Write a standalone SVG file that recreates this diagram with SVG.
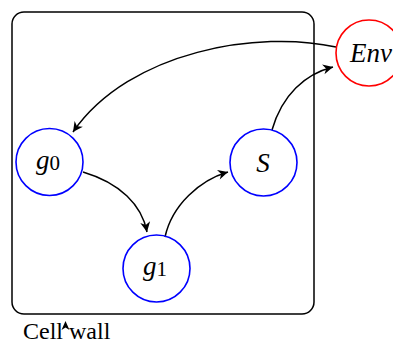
<svg xmlns="http://www.w3.org/2000/svg" width="393" height="343" viewBox="0 0 393 343">
<defs>
<marker id="ah" viewBox="-11 -6 12 12" refX="0" refY="0" markerWidth="12" markerHeight="12" markerUnits="userSpaceOnUse" orient="auto">
<path d="M0,0 L-10,-5 L-7,0 L-10,5 Z" fill="#000"/>
</marker>
</defs>
<g id="cellwall">
<rect x="12" y="12" width="302" height="302" rx="12" ry="12" fill="none" stroke="#000" stroke-width="1.5"/>
<text y="339" font-family="Liberation Serif" font-size="24"><tspan x="23">Cell </tspan><tspan x="69">wall</tspan></text>
<path d="M65.5,321 L69.5,330 L65.5,327.5 L61.5,330 Z" fill="#000"/>
</g>
<g id="edges" fill="none" stroke="#000" stroke-width="1.5">
<path marker-end="url(#ah)" d="M336,47 C260,30 130,50 73,132"/>
<path marker-end="url(#ah)" d="M83,172 C120,183 142,205 147,232"/>
<path marker-end="url(#ah)" d="M165,237 C172,205 200,180 228,172"/>
<path marker-end="url(#ah)" d="M272,130 C282,95 305,74 333,67"/>
</g>
<g id="g0">
<circle cx="49.5" cy="162" r="33.5" fill="none" stroke="#0000ff" stroke-width="1.6"/>
<text x="48" y="169" text-anchor="middle" font-family="Liberation Serif" font-size="27"><tspan font-style="italic">g</tspan><tspan dy="1" font-size="21">0</tspan></text>
</g>
<g id="g1">
<circle cx="156.5" cy="268.5" r="33.5" fill="none" stroke="#0000ff" stroke-width="1.6"/>
<text x="155" y="275" text-anchor="middle" font-family="Liberation Serif" font-size="27"><tspan font-style="italic">g</tspan><tspan dy="1" font-size="21">1</tspan></text>
</g>
<g id="S">
<circle cx="263.5" cy="162.5" r="33.5" fill="none" stroke="#0000ff" stroke-width="1.6"/>
<text x="263" y="172" text-anchor="middle" font-family="Liberation Serif" font-size="27" font-style="italic">S</text>
</g>
<g id="Env">
<circle cx="369" cy="53" r="33" fill="none" stroke="#ff0000" stroke-width="1.6"/>
<text x="371" y="62" text-anchor="middle" font-family="Liberation Serif" font-size="27" font-style="italic">Env</text>
</g>
</svg>
